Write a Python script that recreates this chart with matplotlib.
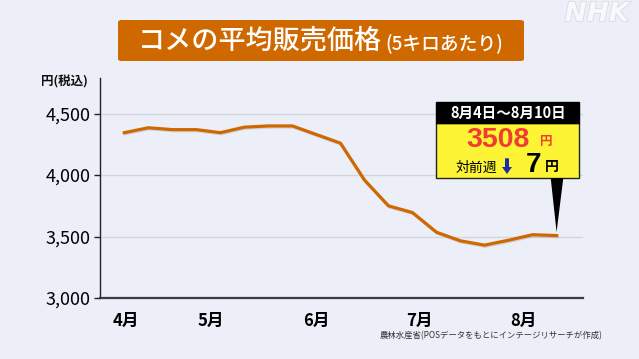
import matplotlib
matplotlib.use('Agg')
import matplotlib.pyplot as plt
import matplotlib.patheffects as pe
from matplotlib.patches import FancyBboxPatch, Rectangle, Polygon
import numpy as np

plt.rcParams['font.family'] = ['Noto Sans CJK JP', 'DejaVu Sans']

# weekly average price of rice (5kg, tax incl.)
prices = [4345, 4385, 4370, 4370, 4345, 4390, 4400, 4400, 4330, 4260,
          3960, 3750, 3695, 3535, 3465, 3430, 3470, 3515, 3508]
month_labels = ['4月', '5月', '6月', '7月', '8月']
month_pos = [0.05, 3.6, 8.0, 12.27, 16.6]
y_ticks = [3000, 3500, 4000, 4500]

latest_period = '8月4日～8月10日'
latest_price = 3508
week_change = 7

W, H = 639, 359
bg = '#eceef8'
orange = '#d06800'

fig = plt.figure(figsize=(W / 100, H / 100), dpi=100, facecolor=bg)

def px(x, y):
    # pixel coords (top-left origin) to figure fraction
    return x / W, 1 - y / H

#axes area
ax = fig.add_axes([100 / W, 1 - 298 / H, 483 / W, 220 / H])
ax.set_facecolor(bg)
x = np.arange(len(prices))
ax.plot(x, prices, color=orange, lw=2.3, solid_joinstyle='round', zorder=3,
        path_effects=[pe.SimpleLineShadow(offset=(0.6, -0.8), shadow_color='#9a9aa8', alpha=0.35),
                      pe.Normal()])
ax.set_xlim(-1.01, 19.1)
ax.set_ylim(3000, 4790)
ax.set_yticks(y_ticks)
ax.set_yticklabels([f'{v:,}' for v in y_ticks], fontsize=13)
ax.set_xticks(month_pos)
ax.set_xticklabels(month_labels, fontsize=12, fontweight='bold')
ax.tick_params(axis='x', length=0, pad=10)
ax.tick_params(axis='y', length=4, width=1, pad=2.5, color='#222222')
for v in y_ticks[1:]:
    ax.axhline(v, color='#d3d5df', lw=1, zorder=1)
for s in ['top', 'right']:
    ax.spines[s].set_visible(False)
ax.spines['left'].set_color('#222222')
ax.spines['left'].set_linewidth(1)
ax.spines['bottom'].set_color('#3a3a40')
ax.spines['bottom'].set_linewidth(1.6)

# y unit label
fig.text(*px(88, 82), '円(税込)', ha='right', va='center', fontsize=9, fontweight='bold', color='#111111')

# title box
x0, y0 = px(118, 61)
x1, y1 = px(524, 20)
fig.patches.append(FancyBboxPatch((x0, y0), x1 - x0, y1 - y0, boxstyle='round,pad=0,rounding_size=0.006',
                                  transform=fig.transFigure, facecolor=orange, edgecolor='none'))
fig.text(*px(138, 41), 'コメの平均販売価格', ha='left', va='center', fontsize=19.5, color='white',
         fontweight='medium')
fig.text(*px(385, 43), '(5キロあたり)', ha='left', va='center', fontsize=13.5, color='white',
         fontweight='medium')

# NHK logo
fig.text(*px(597, 14), 'NHK', ha='center', va='center', fontsize=19, fontweight='bold',
         fontstyle='italic', family='DejaVu Sans', color='#f7f8fc',
         path_effects=[pe.withStroke(linewidth=1.2, foreground='#d8dae4')])

# callout
bx0, bx1 = 436, 579
fig.patches.append(Rectangle(px(bx0, 178.3), (bx1 - bx0) / W, 55 / H, transform=fig.transFigure,
                             facecolor='#fcf434', edgecolor='#222222', lw=1))
fig.patches.append(Rectangle(px(bx0, 123.3), (bx1 - bx0) / W, 21.6 / H, transform=fig.transFigure,
                             facecolor='black', edgecolor='black', lw=1))
# pointer to the last point
tip = ax.transData.transform((len(prices) - 1, latest_price))
tip = fig.transFigure.inverted().transform(tip)
fig.patches.append(Polygon([px(550.7, 178), px(563.3, 178), (tip[0], tip[1] + 3.5 / H)], closed=True,
                           transform=fig.transFigure, facecolor='black', edgecolor='none'))
fig.text(*px(508, 112.5), latest_period, ha='center', va='center', fontsize=10.5,
         fontweight='bold', color='white')
fig.text(*px(498, 140), str(latest_price), ha='center', va='center', fontsize=20.5,
         fontweight='bold', color='#f03c32', family='Liberation Sans')
fig.text(*px(546, 141.5), '円', ha='center', va='center', fontsize=9, fontweight='bold', color='#f03c32')
fig.text(*px(476.7, 168), '対前週', ha='center', va='center', fontsize=10, color='black')
fig.patches.append(Polygon([px(505, 158.3), px(509, 158.3), px(509, 167), px(512, 167), px(507, 174),
                            px(502, 167), px(505, 167)], closed=True, transform=fig.transFigure,
                           facecolor='#1a2ea8', edgecolor='none'))
fig.text(*px(533.3, 165), str(week_change), ha='center', va='center', fontsize=20,
         fontweight='bold', color='black', family='Liberation Sans')
fig.text(*px(552.3, 167), '円', ha='center', va='center', fontsize=10, fontweight='bold', color='black')

# source
fig.text(*px(603, 336), '農林水産省(POSデータをもとにインテージリサーチが作成)', ha='right', va='center',
         fontsize=6, color='#333333')

fig.savefig('out.png', dpi=100, facecolor=bg)
